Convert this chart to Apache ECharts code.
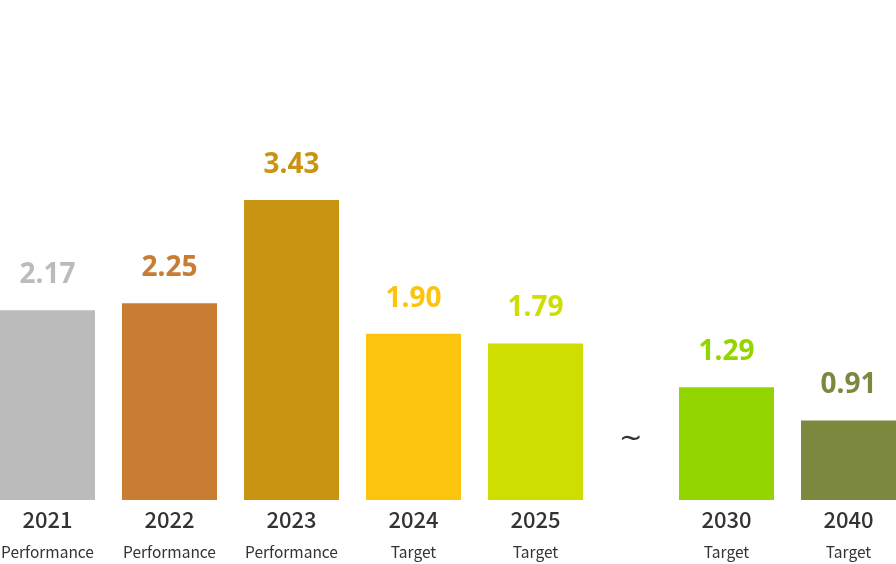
<!DOCTYPE html>
<html>
<head>
<meta charset="utf-8">
<script src="https://cdn.jsdelivr.net/npm/echarts@6/dist/echarts.min.js"></script>
<style>
html,body{margin:0;padding:0;background:#fff;}
#chart{width:896px;height:564px;}
</style>
</head>
<body>
<div id="chart"></div>
<script>
// Data
const yearsA = ['2021', '2022', '2023', '2024', '2025'];
const kindsA = ['Performance', 'Performance', 'Performance', 'Target', 'Target'];
const valuesA = [2.17, 2.25, 3.43, 1.90, 1.79];
const yearsB = ['2030', '2040'];
const kindsB = ['Target', 'Target'];
const valuesB = [1.29, 0.91];
const breakMark = '~';

// Styles
const colorsA = ['#bbbbbb', '#c97d32', '#c89412', '#fdc40e', '#cede00'];
const colorsB = ['#93d500', '#7b883d'];

const chart = echarts.init(document.getElementById('chart'), null, {renderer: 'canvas'});

function mkAxis(idx, years, kinds) {
  return {
    type: 'category', gridIndex: idx, data: years,
    axisLine: {show: false}, axisTick: {show: false}, splitLine: {show: false},
    axisLabel: {
      margin: 6, interval: 0,
      formatter: function (v, i) { return '{y|' + v + '}\n{s|' + kinds[i] + '}'; },
      rich: {
        y: {fontFamily: 'Noto Sans CJK KR', fontWeight: 500, fontSize: 22, color: '#333333', lineHeight: 28, align: 'center'},
        s: {fontFamily: 'Noto Sans CJK KR', fontWeight: 400, fontSize: 15.5, color: '#333333', lineHeight: 36, align: 'center'}
      }
    }
  };
}
function mkY(idx) {
  return {type: 'value', gridIndex: idx, min: 0, max: 4, show: false, splitLine: {show: false}};
}
function mkSeries(idx, values, colors) {
  return {
    type: 'bar', xAxisIndex: idx, yAxisIndex: idx, barWidth: 95,
    data: values.map((v, i) => ({
      value: v,
      itemStyle: {color: colors[i]},
      label: {color: colors[i]}
    })),
    label: {
      show: true, position: 'top', distance: 21,
      formatter: p => p.value.toFixed(2),
      fontFamily: 'Noto Sans', fontWeight: 'bold', fontSize: 28
    },
    silent: true
  };
}

chart.setOption({
  animation: false,
  backgroundColor: '#ffffff',
  grid: [
    {left: -13.5, width: 610, top: 150, height: 350, containLabel: false, outerBoundsMode: 'none'},
    {left: 665.5, width: 244, top: 150, height: 350, containLabel: false, outerBoundsMode: 'none'}
  ],
  xAxis: [mkAxis(0, yearsA, kindsA), mkAxis(1, yearsB, kindsB)],
  yAxis: [mkY(0), mkY(1)],
  series: [mkSeries(0, valuesA, colorsA), mkSeries(1, valuesB, colorsB)],
  graphic: [{
    type: 'text', left: 619, top: 426,
    style: {text: breakMark, fontFamily: 'DejaVu Sans', fontSize: 28, fill: '#333333'}
  }]
});
</script>
</body>
</html>
